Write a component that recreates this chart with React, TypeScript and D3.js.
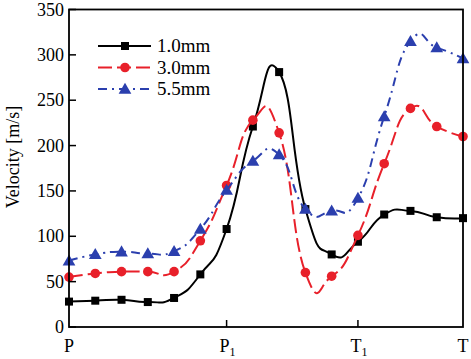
import React from "react";
import * as d3 from "d3";

// positions along the flow path, evenly spaced sample points 0..15
const xTicks = [
  { pos: 0, main: "P", sub: "" },
  { pos: 6, main: "P", sub: "1" },
  { pos: 11, main: "T", sub: "1" },
  { pos: 15, main: "T", sub: "" },
];
const yTicks = [0, 50, 100, 150, 200, 250, 300, 350];

const pointX = [0, 1, 2, 3, 4, 5, 6, 7, 8, 9, 10, 11, 12, 13, 14, 15];

// black point 9 sits under the blue triangle
const blackY = [28, 29, 30, 27.5, 32, 58, 108, 221, 281, 130, 80, 94, 124, 128, 121, 120];
const redY = [55, 59, 61, 61, 61, 95, 156, 228, 214, 60, 56, 101, 180, 241, 221, 210];
const blueY = [73, 80, 83, 81, 83.5, 108, 151, 183, 190, 130, 128, 142, 232, 315, 308, 296];

const series = [
  { name: "1.0mm", ys: blackY, color: "#000000", dash: "", marker: "square" },
  { name: "3.0mm", ys: redY, color: "#e8202a", dash: "14,5", marker: "circle" },
  { name: "5.5mm", ys: blueY, color: "#2b3fae", dash: "9,5,2,5", marker: "triangle" },
];

const W = 471;
const H = 359;
const left = 69;
const right = 463;
const top = 9.5;
const bottom = 327;

const font = "'Liberation Serif', 'Times New Roman', serif";

function Marker({ type, x, y, color }: { type: string; x: number; y: number; color: string }) {
  if (type === "square") return <rect x={x - 4} y={y - 4} width={8} height={8} fill={color} />;
  if (type === "circle") return <circle cx={x} cy={y} r={4.8} fill={color} />;
  const s = d3.symbol(d3.symbolTriangle, 70)();
  return <path d={s || ""} transform={`translate(${x},${y + 1})`} fill={color} />;
}

export default function App() {
  const x = d3.scaleLinear().domain([0, 15]).range([left, right]);
  const y = d3.scaleLinear().domain([0, 350]).range([bottom, top]);

  const line = d3
    .line<[number, number]>()
    .x((d) => x(d[0]))
    .y((d) => y(d[1]))
    .curve(d3.curveCardinal.tension(-0.6));

  return (
    <svg
      width={W}
      height={H}
      style={{ position: "absolute", left: 0, top: 0, background: "#fff" }}
      fontFamily={font}
    >
      {/* curves */}
      {series.map((s) => {
        const pts = pointX.map((v, i) => [v, s.ys[i]] as [number, number]);
        return (
          <g key={s.name}>
            <path d={line(pts) || ""} fill="none" stroke={s.color} strokeWidth={2} strokeDasharray={s.dash} />
            {pts.map((p, i) => (
              <Marker key={i} type={s.marker} x={x(p[0])} y={y(p[1])} color={s.color} />
            ))}
          </g>
        );
      })}

      {/* frame */}
      <rect x={left} y={top} width={right - left} height={bottom - top} fill="none" stroke="#000" strokeWidth={1.8} />

      {/* y ticks */}
      {yTicks.map((t) => (
        <g key={t}>
          <line x1={left} x2={left + 7} y1={y(t)} y2={y(t)} stroke="#000" strokeWidth={1.5} />
          <text x={left - 5} y={y(t) + 6} textAnchor="end" fontSize={18}>
            {t}
          </text>
        </g>
      ))}

      {/* x ticks */}
      {xTicks.map((t) => (
        <g key={t.pos}>
          {t.pos > 0 && t.pos < 15 && (
            <line x1={x(t.pos)} x2={x(t.pos)} y1={bottom} y2={bottom - 7} stroke="#000" strokeWidth={1.5} />
          )}
          <text x={x(t.pos) + (t.sub ? 1 : 0)} y={352} textAnchor="middle" fontSize={18}>
            {t.main}
            {t.sub && (
              <tspan fontSize={12} dy={4}>
                {t.sub}
              </tspan>
            )}
          </text>
        </g>
      ))}

      {/* y title */}
      <text transform="translate(19,157) rotate(-90)" textAnchor="middle" fontSize={18}>
        Velocity [m/s]
      </text>

      {/* legend */}
      {series.map((s, i) => {
        const ly = 46 + i * 21.5;
        return (
          <g key={s.name}>
            <line x1={98} x2={151} y1={ly} y2={ly} stroke={s.color} strokeWidth={2} strokeDasharray={s.dash} />
            <Marker type={s.marker} x={125} y={ly} color={s.color} />
            <text x={157} y={ly + 6} fontSize={19}>
              {s.name}
            </text>
          </g>
        );
      })}
    </svg>
  );
}
